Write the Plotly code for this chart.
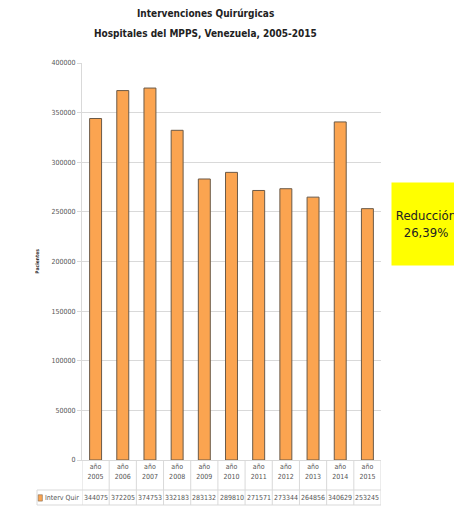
import plotly.graph_objects as go

years = ['2005', '2006', '2007', '2008', '2009', '2010', '2011', '2012', '2013', '2014', '2015']
interv_quir = [344075, 372205, 374753, 332183, 283132, 289810, 271571, 273344, 264856, 340629, 253245]
y_ticks = [0, 50000, 100000, 150000, 200000, 250000, 300000, 350000, 400000]
serie_name = 'Interv Quir'
title_lines = ['Intervenciones Quirúrgicas', 'Hospitales del MPPS, Venezuela, 2005-2015']

orange = '#FBA450'
grid = '#d9d9d9'
font_main = 'DejaVu Sans Condensed, Liberation Sans Narrow, Open Sans, Arial'

fig = go.Figure()
fig.add_trace(go.Bar(x=list(range(len(years))), y=interv_quir, name=serie_name,
                     marker=dict(color=orange, line=dict(color='#6b5a48', width=1)),
                     width=0.44, showlegend=False))

# page body has an 8px margin, so the figure is 8px smaller and shifted
W, H = 299, 397
row_mid = -(30 / H)
row_bot = -(45 / H)
left_col = -(45 / W)

shapes = []
for i in range(len(years) + 1):
    shapes.append(dict(type='line', xref='x', yref='paper', x0=i - 0.5, x1=i - 0.5,
                       y0=0, y1=row_bot, line=dict(color=grid, width=1)))
shapes.append(dict(type='line', xref='paper', yref='paper', x0=left_col, x1=left_col,
                   y0=row_mid, y1=row_bot, line=dict(color=grid, width=1)))
for yy in [row_mid, row_bot]:
    shapes.append(dict(type='line', xref='paper', yref='paper', x0=left_col, x1=1,
                       y0=yy, y1=yy, line=dict(color=grid, width=1)))
# legend key in the table
shapes.append(dict(type='rect', xref='paper', yref='paper', x0=left_col + 0.004, x1=left_col + 0.018,
                   y0=row_mid - 0.012, y1=row_mid - 0.028,
                   fillcolor=orange, line=dict(color='#6b5a48', width=0.5)))

small = dict(size=7, color='#555555', family=font_main)
annotations = []
for i, v in enumerate(interv_quir):
    annotations.append(dict(x=i, y=(row_mid + row_bot) / 2, xref='x', yref='paper',
                            text=str(v), showarrow=False, yanchor='middle', font=small))
annotations.append(dict(x=left_col + 0.02, y=(row_mid + row_bot) / 2, xref='paper', yref='paper',
                        text=serie_name, showarrow=False, xanchor='left', yanchor='middle',
                        font=small))
# title (two lines, a bit spaced like the original)
for k, line in enumerate(title_lines):
    annotations.append(dict(x=(205 - 82) / W, y=1 + (63 - 14 - 20 * k) / H, xref='paper', yref='paper',
                            yanchor='middle', xanchor='center', text='<b>' + line + '</b>',
                            showarrow=False, font=dict(size=10, color='#222222', family=font_main)))
# reduction box
annotations.append(dict(x=(461 - 82) / W, y=1 - (224 - 63) / H, xref='paper', yref='paper',
                        showarrow=False, text='Reducción<br>26,39%', xanchor='right', yanchor='middle',
                        font=dict(size=13, color='#222222', family=font_main),
                        bgcolor='#FFFF00', borderpad=3, width=62, height=76, align='center'))
# y axis title
annotations.append(dict(x=-0.17, y=0.5, xref='paper', yref='paper', showarrow=False,
                        text='<b>Pacientes</b>', textangle=-90,
                        font=dict(size=5, color='#333333', family=font_main)))

fig.update_layout(
    width=454, height=507,
    margin=dict(l=74, r=81, t=55, b=55),
    plot_bgcolor='white', paper_bgcolor='white',
    shapes=shapes, annotations=annotations,
    xaxis=dict(tickmode='array', tickvals=list(range(len(years))),
               ticktext=['año<br>' + y for y in years],
               range=[-0.5, len(years) - 0.5], showgrid=False,
               showline=True, linecolor=grid, ticks='',
               tickfont=small),
    yaxis=dict(range=[0, 400000], tickvals=y_ticks, ticktext=[str(t) for t in y_ticks],
               showgrid=True, gridcolor=grid,
               showline=True, linecolor=grid, ticks='outside', ticklen=4, tickcolor=grid,
               tickfont=small, zeroline=False),
    bargap=0.56,
)

fig.write_html('out.html')
